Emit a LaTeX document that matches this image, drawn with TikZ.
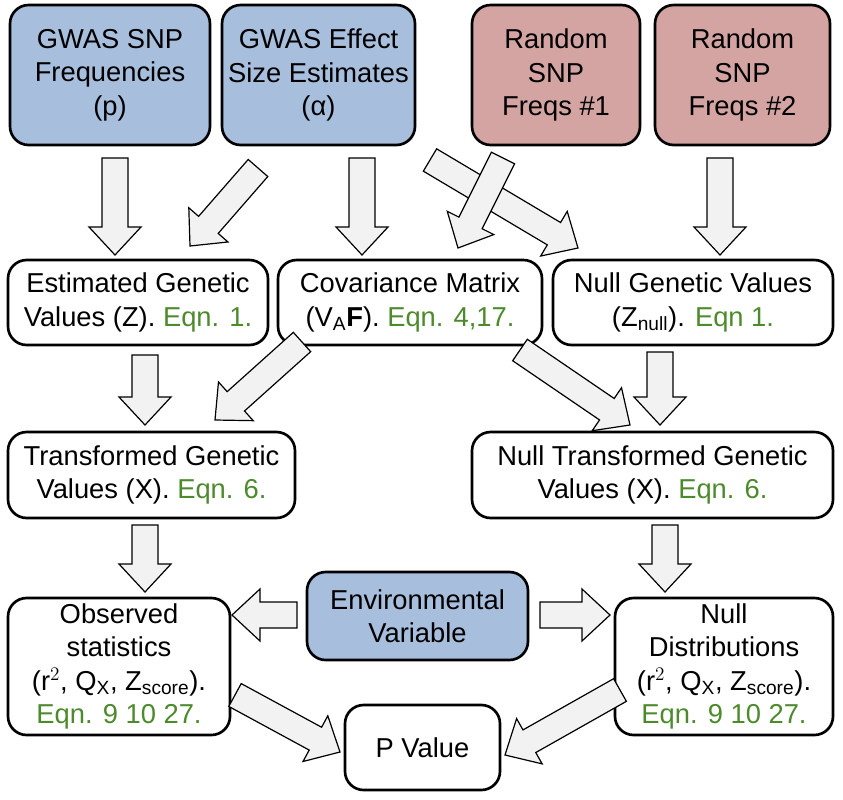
\documentclass[tikz,border=0pt]{standalone}
\usepackage{fontspec}
\setmainfont{Liberation Sans}
\usetikzlibrary{calc}
\definecolor{bl}{HTML}{A8BEDD}
\definecolor{pk}{HTML}{D3A4A2}
\definecolor{gr}{HTML}{4C8A2C}
\definecolor{af}{HTML}{F2F2F2}
\newcommand{\eq}[1]{\textcolor{gr}{#1}}
\newcommand{\barrow}[2]{%
  \coordinate (hb) at ($(#2)!21pt!(#1)$);
  \draw[line width=0.9pt,fill=af,line join=miter]
    ($(#1)!9.75pt!90:(#2)$) -- ($(hb)!9.75pt!90:(#2)$) -- ($(hb)!19.5pt!90:(#2)$) -- (#2)
    -- ($(hb)!19.5pt!-90:(#2)$) -- ($(hb)!9.75pt!-90:(#2)$) -- ($(#1)!9.75pt!-90:(#2)$) -- cycle;}
\begin{document}
\begin{tikzpicture}[x=0.75pt,y=-0.75pt,
  bx/.style={draw,line width=2pt,rounded corners=14pt,inner sep=0pt}]
\useasboundingbox (0,0) rectangle (843,800);
\newcommand{\Bx}[7]{\node[bx,fill=#6,minimum width={(#3-#2)*0.75pt},minimum height={(#5-#4)*0.75pt}]
  (#1) at ({(#2+#3)/2},{(#4+#5)/2}) {};\node[align=center,font=\fontsize{20.5}{25}\selectfont] at (#1) {#7};}
\Bx{A}{10}{210}{5}{145}{bl}{GWAS SNP\\Frequencies\\(p)}
\Bx{Bb}{222}{415}{5}{145}{bl}{GWAS Effect\\Size Estimates\\(α)}
\Bx{C}{472}{640}{5}{145}{pk}{Random\\SNP\\Freqs \#1}
\Bx{D}{655}{830}{5}{145}{pk}{Random\\SNP\\Freqs \#2}
\Bx{E}{8}{268}{260}{345}{white}{Estimated Genetic\\Values (Z). \eq{Eqn. 1.}}
\Bx{F}{278}{542}{260}{345}{white}{Covariance Matrix\\(V$_{\mathrm{A}}$\textbf{F}). \eq{Eqn. 4,17.}}
\Bx{G}{553}{833}{260}{345}{white}{Null Genetic Values\\(Z$_{\mathrm{null}}$). \eq{Eqn 1.}}
\Bx{H}{8}{295}{432}{518}{white}{Transformed Genetic\\Values (X). \eq{Eqn. 6.}}
\Bx{I}{472}{833}{432}{518}{white}{Null Transformed Genetic\\Values (X). \eq{Eqn. 6.}}
\Bx{J}{307}{528}{572}{660}{bl}{Environmental\\Variable}
\Bx{K}{8}{230}{598}{735}{white}{Observed\\statistics\\(r$^{2}$, Q$_{\mathrm{X}}$, Z$_{\mathrm{score}}$).\\\eq{Eqn. 9 10 27.}}
\Bx{L}{615}{833}{598}{735}{white}{Null\\Distributions\\(r$^{2}$, Q$_{\mathrm{X}}$, Z$_{\mathrm{score}}$).\\\eq{Eqn. 9 10 27.}}
\Bx{M}{345}{500}{705}{790}{white}{P Value}
\foreach \t/\h [count=\i] in {
  {115,158}/{115,255}, {258,168}/{190,246}, {362,158}/{362,255},
  {430,160}/{578,248}, {503,158}/{458,248}, {720,158}/{720,255},
  {145,355}/{145,425}, {302,342}/{215,420}, {520,350}/{630,425},
  {660,352}/{660,425}, {145,525}/{145,592}, {665,525}/{665,592},
  {297,615}/{232,615}, {540,615}/{610,615}, {235,695}/{340,752},
  {620,690}/{505,755}}{
  \coordinate (t\i) at (\t); \coordinate (h\i) at (\h);
  \barrow{t\i}{h\i}}
\end{tikzpicture}
\end{document}
